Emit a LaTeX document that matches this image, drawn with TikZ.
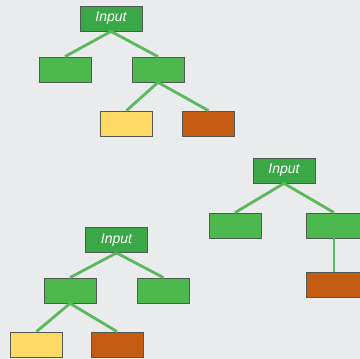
\documentclass[tikz,border=0pt]{standalone}
\usepackage{fontspec}
\setmainfont{Liberation Sans}
\definecolor{bgGrey}{HTML}{E9EBED}
\definecolor{rootGreen}{HTML}{3BA847}
\definecolor{leafGreen}{HTML}{4DB84E}
\definecolor{edgeGreen}{HTML}{5CB85C}
\definecolor{leafYellow}{HTML}{FFD966}
\definecolor{leafOrange}{HTML}{C55A11}
\definecolor{boxBorder}{HTML}{4F5A55}
\begin{document}
\begin{tikzpicture}[x=1pt,y=-1pt,
  box/.style={draw=boxBorder, line width=0.8pt, rectangle, minimum width=52pt, minimum height=25pt, inner sep=0pt},
  rootbox/.style={box, fill=rootGreen, minimum width=62pt, text=white, font=\fontsize{14}{16}\selectfont\itshape},
  greenbox/.style={box, fill=leafGreen},
  yellowbox/.style={box, fill=leafYellow},
  orangebox/.style={box, fill=leafOrange},
  edge/.style={draw=edgeGreen, line width=2.8pt}]
\fill[bgGrey] (0,0) rectangle (360,359);
\clip (0,0) rectangle (360,359);

% first tree
\node[rootbox] (in1) at (111,18.5) {Input};
\node[greenbox] (l1) at (65,69.5) {};
\node[greenbox] (r1) at (158,69.5) {};
\node[yellowbox] (rl1) at (126.5,123.5) {};
\node[orangebox] (rr1) at (208.5,123.5) {};

\draw[edge] (in1.south) -- (l1.north);
\draw[edge] (in1.south) -- (r1.north);
\draw[edge] (r1.south) -- (rl1.north);
\draw[edge] (r1.south) -- (rr1.north);

% second tree
\node[rootbox] (in2) at (284,170.5) {Input};
\node[greenbox] (l2) at (235,225.5) {};
\node[greenbox, minimum width=56pt] (r2) at (334,225.5) {};
\node[orangebox, minimum width=56pt] (rr2) at (334,285) {};

\draw[edge] (in2.south) -- (l2.north);
\draw[edge] (in2.south) -- (r2.north);
\draw[edge] (r2.south) -- (rr2.north);

% third tree
\node[rootbox] (in3) at (116.5,240) {Input};
\node[greenbox] (l3) at (70,290.5) {};
\node[greenbox] (r3) at (163.5,290.5) {};
\node[yellowbox] (ll3) at (36.5,344.5) {};
\node[orangebox] (lr3) at (117,344.5) {};

\draw[edge] (in3.south) -- (l3.north);
\draw[edge] (in3.south) -- (r3.north);
\draw[edge] (l3.south) -- (ll3.north);
\draw[edge] (l3.south) -- (lr3.north);
\end{tikzpicture}
\end{document}
